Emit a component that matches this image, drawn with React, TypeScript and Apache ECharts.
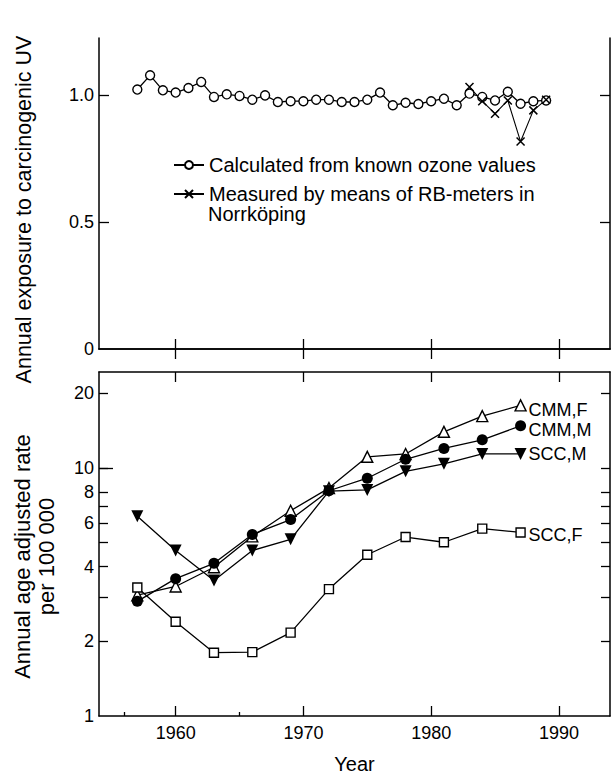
import React, { useEffect, useRef } from 'react';
import * as echarts from 'echarts';

// ---- Upper panel: annual exposure to carcinogenic UV ----
const topYears = [1957, 1958, 1959, 1960, 1961, 1962, 1963, 1964, 1965, 1966, 1967, 1968, 1969, 1970, 1971, 1972, 1973, 1974, 1975, 1976, 1977, 1978, 1979, 1980, 1981, 1982, 1983, 1984, 1985, 1986, 1987, 1988, 1989];
const calculatedUV = [1.022, 1.078, 1.019, 1.010, 1.028, 1.052, 0.993, 1.003, 0.997, 0.982, 0.999, 0.973, 0.976, 0.976, 0.982, 0.982, 0.973, 0.973, 0.982, 1.010, 0.960, 0.970, 0.965, 0.976, 0.986, 0.960, 1.006, 0.993, 0.979, 1.013, 0.966, 0.976, 0.979];
const measuredYears = [1983, 1984, 1985, 1986, 1987, 1988, 1989];
const measuredUV = [1.032, 0.976, 0.927, 0.979, 0.817, 0.940, 0.982];

// ---- Lower panel: annual age adjusted rate per 100 000 ----
const rateYears = [1957, 1960, 1963, 1966, 1969, 1972, 1975, 1978, 1981, 1984, 1987];
const cmmF = [3.07, 3.33, 3.98, 5.3, 6.73, 8.3, 11.1, 11.4, 14.0, 16.2, 17.9];
const cmmM = [2.90, 3.58, 4.13, 5.4, 6.2, 8.1, 9.1, 10.85, 12.0, 13.0, 14.8];
const sccM = [6.39, 4.65, 3.52, 4.65, 5.16, 8.07, 8.16, 9.7, 10.4, 11.4, 11.4];
const sccF = [3.30, 2.40, 1.80, 1.81, 2.17, 3.25, 4.47, 5.27, 5.02, 5.70, 5.5];

// ---- Ticks ----
const decadeTicks = [1960, 1970, 1980, 1990];
const minorYearTicks = [1956, 1965];
const uvTickLabels = [0, 0.5, 1];
const uvTicks = [0.5, 1];
const rateTickLabels = [1, 2, 4, 6, 8, 10, 20];
const rateTicks = [2, 3, 4, 5, 6, 7, 8, 10, 20];
const rateLongTicks = [10];

const measuredName = 'Measured by means of RB-meters in Norrköping';
const measuredLine1 = 'Measured by means of RB-meters in';
const measuredLine2 = 'Norrköping';

const FONT = "'Liberation Sans', Arial, Helvetica, sans-serif";
const BLACK = '#000';

const pairs = (xs: number[], ys: number[]) => xs.map((x, i) => [x, ys[i]]);

export default function App() {
  const ref = useRef<HTMLDivElement>(null);

  useEffect(() => {
    if (!ref.current) return;
    const chart = echarts.init(ref.current, null, { renderer: 'svg' });

    const frameLine = { show: true, lineStyle: { color: BLACK, width: 1.5 } };
    const inTick = (vals: number[], len = 10) => ({
      show: true,
      inside: true,
      length: len,
      customValues: vals,
      lineStyle: { color: BLACK, width: 1.3 },
    });

    const lineSeries = (name: string, data: number[][], extra: any) => ({
      name,
      type: 'line',
      data,
      color: BLACK,
      lineStyle: { color: BLACK, width: 1.3 },
      showSymbol: true,
      ...extra,
    });

    const endLabel = (dy: number) => ({
      show: true,
      formatter: '{a}',
      fontFamily: FONT,
      fontSize: 18,
      lineHeight: 17,
      color: BLACK,
      distance: 8,
      offset: [0, dy],
    });

    const option: any = {
      animation: false,
      textStyle: { fontFamily: FONT, color: BLACK },
      grid: [
        { left: 99, top: 38, width: 511, height: 311 },
        { left: 99, top: 372, width: 511, height: 349 },
      ],
      xAxis: [
        {
          gridIndex: 0, type: 'value', min: 1954, max: 1994, position: 'bottom',
          axisLine: frameLine, axisTick: inTick(decadeTicks), axisLabel: { show: false }, splitLine: { show: false },
        },
        {
          gridIndex: 0, type: 'value', min: 1954, max: 1994, position: 'top',
          axisLine: frameLine, axisTick: inTick(decadeTicks), axisLabel: { show: false }, splitLine: { show: false },
        },
        {
          gridIndex: 1, type: 'value', min: 1954, max: 1994, position: 'bottom',
          axisLine: frameLine, axisTick: inTick(decadeTicks),
          axisLabel: {
            show: true, customValues: decadeTicks, fontSize: 18, color: BLACK, fontFamily: FONT, margin: 8,
            formatter: (v: number) => String(v),
          },
          splitLine: { show: false },
          name: 'Year', nameLocation: 'middle', nameGap: 38,
          nameTextStyle: { fontSize: 20, color: BLACK, fontFamily: FONT },
        },
        {
          gridIndex: 1, type: 'value', min: 1954, max: 1994, position: 'top',
          axisLine: frameLine, axisTick: inTick(decadeTicks), axisLabel: { show: false }, splitLine: { show: false },
        },
        {
          gridIndex: 1, type: 'value', min: 1954, max: 1994, position: 'bottom',
          axisLine: { show: false }, axisTick: inTick(minorYearTicks, 4), axisLabel: { show: false }, splitLine: { show: false },
        },
      ],
      yAxis: [
        {
          gridIndex: 0, type: 'value', min: 0, max: 1.225, position: 'left',
          axisLine: frameLine, axisTick: inTick(uvTicks),
          axisLabel: {
            show: true, customValues: uvTickLabels, fontSize: 18, color: BLACK, fontFamily: FONT, margin: 5,
            formatter: (v: number) => (v === 0 ? '0' : v.toFixed(1)),
          },
          splitLine: { show: false },
          name: 'Annual exposure to carcinogenic UV', nameLocation: 'middle', nameRotate: 90, nameGap: 64,
          nameTextStyle: { fontSize: 21.5, color: BLACK, fontFamily: FONT, padding: [0, 32, 0, 0] },
        },
        {
          gridIndex: 0, type: 'value', min: 0, max: 1.225, position: 'right',
          axisLine: frameLine, axisTick: inTick(uvTicks), axisLabel: { show: false }, splitLine: { show: false },
        },
        {
          gridIndex: 1, type: 'log', logBase: 10, min: 1, max: 24.4, position: 'left',
          axisLine: frameLine, axisTick: inTick(rateTicks, 9),
          axisLabel: { show: true, customValues: rateTickLabels, fontSize: 18, color: BLACK, fontFamily: FONT, margin: 5 },
          splitLine: { show: false }, minorTick: { show: false },
          name: 'Annual age adjusted rate\nper 100 000', nameLocation: 'middle', nameRotate: 90, nameGap: 41,
          nameTextStyle: { fontSize: 22, lineHeight: 24, color: BLACK, fontFamily: FONT, padding: [0, 25, 0, 0] },
        },
        {
          gridIndex: 1, type: 'log', logBase: 10, min: 1, max: 24.4, position: 'right',
          axisLine: frameLine, axisTick: inTick(rateTicks, 9), axisLabel: { show: false }, splitLine: { show: false },
        },
        {
          gridIndex: 1, type: 'log', logBase: 10, min: 1, max: 24.4, position: 'left',
          axisLine: { show: false }, axisTick: inTick(rateLongTicks, 14), axisLabel: { show: false }, splitLine: { show: false },
        },
      ],
      legend: [
        {
          data: ['Calculated from known ozone values'],
          left: 173, top: 154, orient: 'vertical', padding: 0, selectedMode: false,
          itemWidth: 30, itemHeight: 10,
          textStyle: { fontSize: 20, lineHeight: 22, color: BLACK, fontFamily: FONT },
        },
        {
          data: [measuredName],
          left: 173, top: 183, orient: 'vertical', padding: 0, selectedMode: false,
          itemWidth: 30, itemHeight: 10,
          formatter: () => measuredLine1,
          textStyle: { fontSize: 20, lineHeight: 22, color: BLACK, fontFamily: FONT },
        },
      ],
      graphic: [
        {
          type: 'text',
          left: 208,
          top: 204,
          style: { text: measuredLine2, fontSize: 20, fontFamily: FONT, fill: BLACK },
        },
      ],
      series: [
        lineSeries('Calculated from known ozone values', pairs(topYears, calculatedUV), {
          xAxisIndex: 0, yAxisIndex: 0,
          symbol: 'circle', symbolSize: 9,
          itemStyle: { color: '#fff', borderColor: BLACK, borderWidth: 1.4 },
        }),
        lineSeries(measuredName, pairs(measuredYears, measuredUV), {
          xAxisIndex: 0, yAxisIndex: 0,
          symbol: 'path://M0,0L10,10M10,0L0,10', symbolSize: 8,
          itemStyle: { color: 'none', borderColor: BLACK, borderWidth: 1.5 },
          lineStyle: { color: BLACK, width: 1.1 },
        }),
        lineSeries('CMM,F', pairs(rateYears, cmmF), {
          xAxisIndex: 2, yAxisIndex: 2,
          symbol: 'triangle', symbolSize: 11,
          itemStyle: { color: '#fff', borderColor: BLACK, borderWidth: 1.4 },
          endLabel: endLabel(5),
        }),
        lineSeries('CMM,M', pairs(rateYears, cmmM), {
          xAxisIndex: 2, yAxisIndex: 2,
          symbol: 'circle', symbolSize: 11,
          itemStyle: { color: BLACK, borderColor: BLACK, borderWidth: 0 },
          endLabel: endLabel(4),
        }),
        lineSeries('SCC,M', pairs(rateYears, sccM), {
          xAxisIndex: 2, yAxisIndex: 2,
          symbol: 'triangle', symbolRotate: 180, symbolSize: 12,
          itemStyle: { color: BLACK, borderColor: BLACK, borderWidth: 0 },
          endLabel: endLabel(0),
        }),
        lineSeries('SCC,F', pairs(rateYears, sccF), {
          xAxisIndex: 2, yAxisIndex: 2,
          symbol: 'rect', symbolSize: 9,
          itemStyle: { color: '#fff', borderColor: BLACK, borderWidth: 1.4 },
          endLabel: endLabel(3),
        }),
      ],
    };

    chart.setOption(option);
    return () => chart.dispose();
  }, []);

  return (
    <div
      ref={ref}
      style={{ position: 'absolute', left: 0, top: 0, width: 612, height: 775, background: '#fff' }}
    />
  );
}
